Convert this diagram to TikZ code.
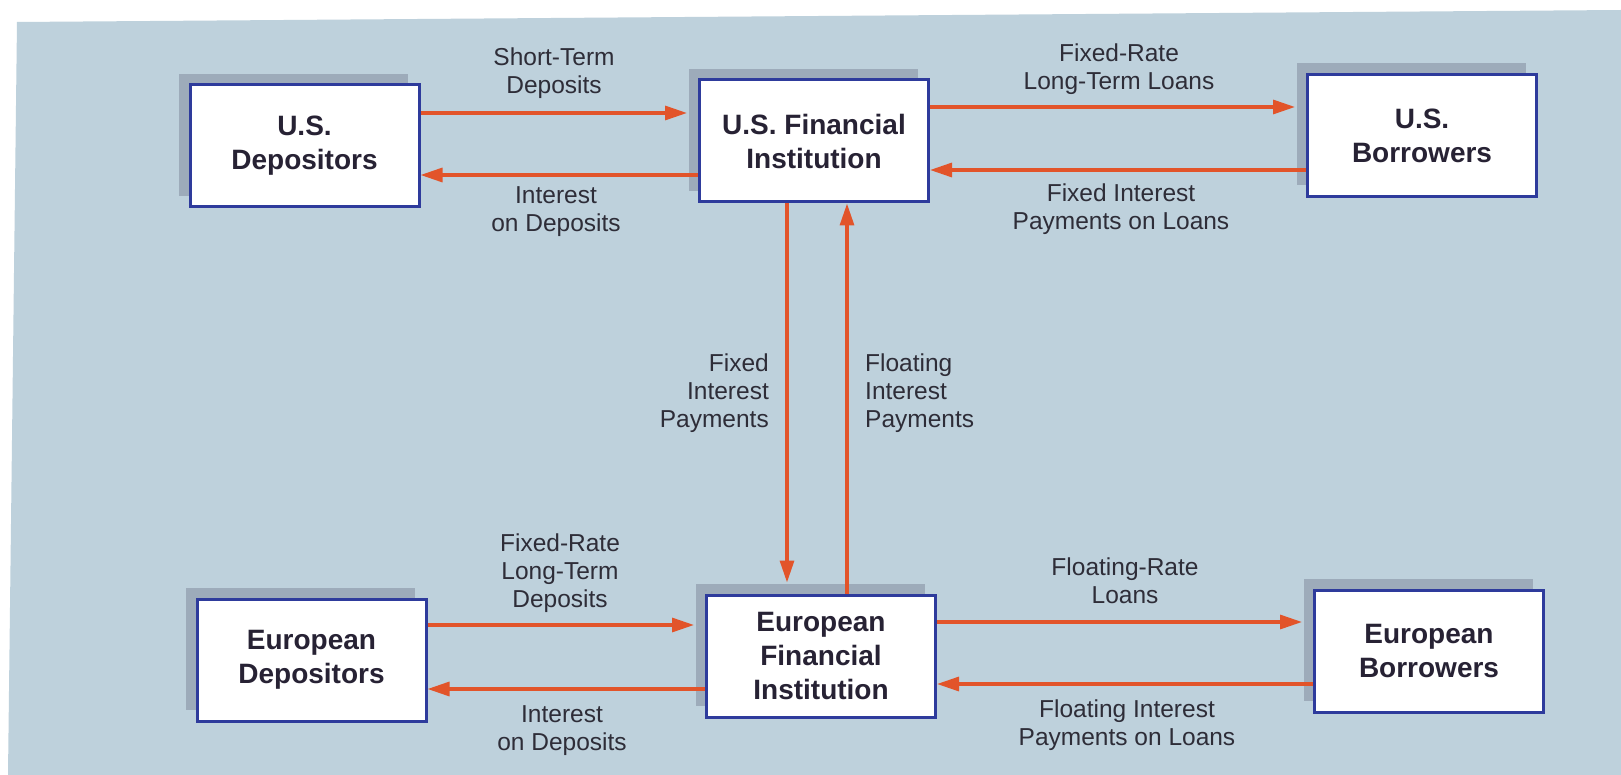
\documentclass[tikz,border=0pt]{standalone}
\usepackage{fontspec}
\setmainfont{Liberation Sans}
\usetikzlibrary{arrows.meta,shadows}
\definecolor{bgblue}{HTML}{BED1DC}
\definecolor{shadowgray}{HTML}{9DABBA}
\definecolor{boxborder}{HTML}{2E3B9C}
\definecolor{arrowred}{HTML}{E2542A}
\definecolor{textdark}{HTML}{272234}
\definecolor{labeldark}{HTML}{2E2D38}
\tikzset{
  entity/.style={draw=boxborder, line width=3pt, fill=white, minimum width=229pt, minimum height=122pt,
    align=center, text=textdark, font=\fontsize{28}{34}\selectfont\bfseries, inner sep=0pt,
    general shadow={fill=shadowgray, shadow xshift=-11pt, shadow yshift=11pt}},
  flowlabel/.style={align=center, anchor=base, text=labeldark, font=\fontsize{24.5}{28}\selectfont, inner sep=0pt},
  flow/.style={draw=arrowred, line width=3.2pt, -{Triangle[length=22pt,width=14pt]}}
}
\begin{document}
\begin{tikzpicture}[x=1pt,y=-1pt]
\useasboundingbox (0,0) rectangle (1621,775);
\fill[white] (0,0) rectangle (1621,775);
\fill[bgblue] (17,22) -- (1621,10) -- (1621,775) -- (8,775) -- cycle;

\node[entity] (usdep) at (304.5,146) {U.S.\\Depositors};
\node[entity] (usfi) at (814,141) {U.S. Financial\\Institution};
\node[entity] (usbor) at (1422,135.5) {U.S.\\Borrowers};
\node[entity] (eudep) at (311.5,660) {European\\Depositors};
\node[entity] (eufi) at (821,656) {European\\Financial\\Institution};
\node[entity] (eubor) at (1429,651) {European\\Borrowers};

\coordinate (usfiW) at ([xshift=-11pt]usfi.west);
\coordinate (usborW) at ([xshift=-11pt]usbor.west);
\coordinate (eufiW) at ([xshift=-11pt]eufi.west);
\coordinate (eufiN) at ([yshift=11pt]eufi.north);
\coordinate (euborW) at ([xshift=-11pt]eubor.west);

% top row
\draw[flow] (usdep.east |- 0,113) -- (usfiW |- 0,113);
\draw[flow] (usfi.west |- 0,175) -- (usdep.east |- 0,175);
\draw[flow] (usfi.east |- 0,107) -- (usborW |- 0,107);
\draw[flow] (usbor.west |- 0,170) -- (usfi.east |- 0,170);
% vertical
\draw[flow] (usfi.south -| 787,0) -- (eufiN -| 787,0);
\draw[flow] (eufi.north -| 847,0) -- (usfi.south -| 847,0);
% bottom row
\draw[flow] (eudep.east |- 0,625) -- (eufiW |- 0,625);
\draw[flow] (eufi.west |- 0,689) -- (eudep.east |- 0,689);
\draw[flow] (eufi.east |- 0,622) -- (euborW |- 0,622);
\draw[flow] (eubor.west |- 0,684) -- (eufi.east |- 0,684);

% labels (positioned at baseline of last line)
\node[flowlabel] (l1) at (554,94) {Short-Term\\Deposits};
\node[flowlabel] (l2) at (556,232) {Interest\\on Deposits};
\node[flowlabel] (l3) at (1119,90) {Fixed-Rate\\Long-Term Loans};
\node[flowlabel] (l4) at (1121,230) {Fixed Interest\\Payments on Loans};
\node[flowlabel, align=right, anchor=base east] (l5) at (769,427) {Fixed\\Interest\\Payments};
\node[flowlabel, align=left, anchor=base west] (l6) at (865,427) {Floating\\Interest\\Payments};
\node[flowlabel] (l7) at (560,607) {Fixed-Rate\\Long-Term\\Deposits};
\node[flowlabel] (l8) at (562,750) {Interest\\on Deposits};
\node[flowlabel] (l9) at (1125,603) {Floating-Rate\\Loans};
\node[flowlabel] (l10) at (1127,745) {Floating Interest\\Payments on Loans};
\end{tikzpicture}
\end{document}
